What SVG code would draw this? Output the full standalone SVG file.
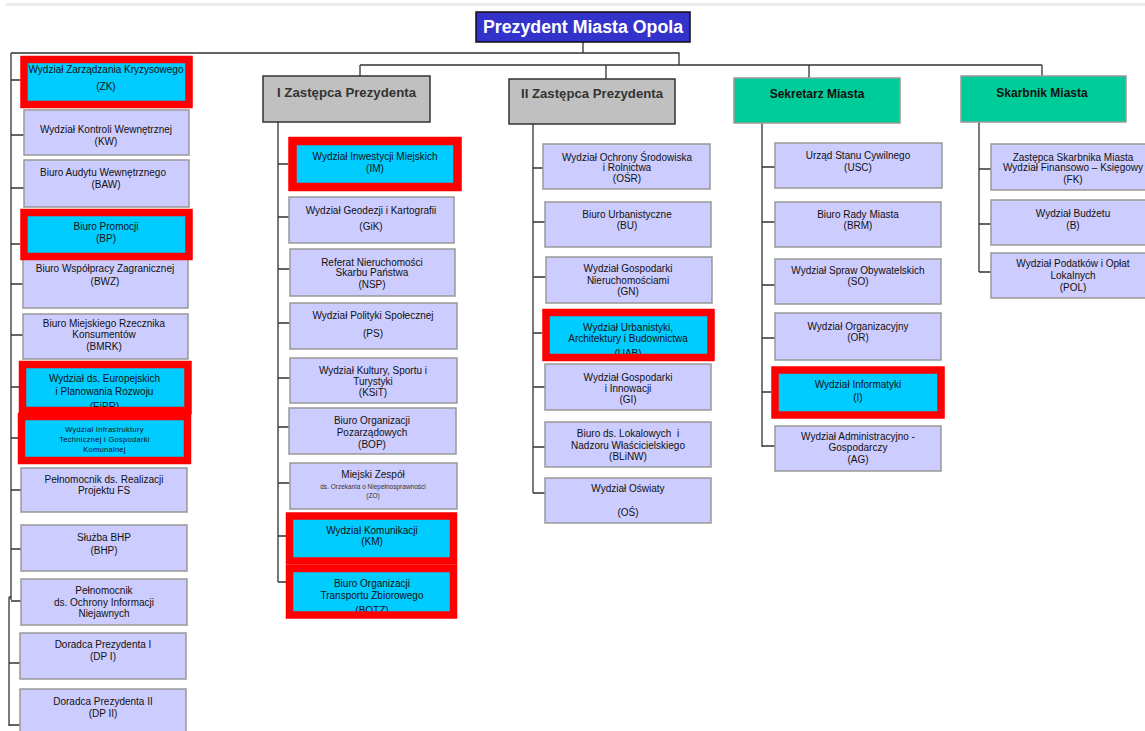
<svg xmlns="http://www.w3.org/2000/svg" width="1145" height="731" viewBox="0 0 1145 731">
<style>
text{font-family:"Liberation Sans",Arial,sans-serif;font-size:10px;fill:#111;text-anchor:middle}
.d{fill:#ccccff;stroke:#999;stroke-width:1.5}
.c{fill:#00ccff}
.r{fill:none;stroke:#ff0000;stroke-width:7.5}
.g{fill:#c0c0c0;stroke:#333;stroke-width:1.5}
.t{fill:#00cc99;stroke:#999;stroke-width:1.5}
.h{font-size:13px;font-weight:bold;fill:#333}
.hb{font-size:12px;font-weight:bold;fill:#111}
.s{font-size:7.5px;fill:#111;letter-spacing:0.3px}
.xs{font-size:6.5px;fill:#333}
#conn path{fill:none;stroke:#333;stroke-width:1.3}
</style>
<rect width="1145" height="731" fill="#fff"/>
<rect x="6" y="3" width="1139" height="3" fill="#ececec"/>
<g id="conn">
<path d="M583 42V53M11 53H679V65M360 65H1042M360 65V76M606 65V79M809 65V78M1042 65V76"/>
<path d="M11 53V600M9 597H11M9 597V726M11 80H20M11 135H24M11 188H24M11 244H20M11 284H23M11 335H23M11 387H19M11 438H18M11 490H21M11 549H21M11 601H21M9 663H20M9 725H20"/>
<path d="M278 122V582M278 164H288M278 217H289M278 269H290M278 323H290M278 378H290M278 427H289M278 483H290M278 536H286M278 582H286"/>
<path d="M533 124V493M533 168H543M533 222H545M533 277H546M533 333H542M533 387H545M533 447H545M533 493H545"/>
<path d="M762 123V447M762 167H775M762 222H775M762 285H775M762 338H775M762 392H771M762 446H775"/>
<path d="M979 122V272M979 169H991M979 224H991M979 272H991"/>
</g>
<g id="prezydent"><rect x="476" y="12" width="214" height="30" fill="#3333cc" stroke="#111" stroke-width="1.5"/><text x="583" y="33" style="font-size:18px;font-weight:bold;fill:#fff" textLength="200" lengthAdjust="spacingAndGlyphs">Prezydent Miasta Opola</text></g>
<g id="zastepca1"><rect class="g" x="263" y="76" width="167" height="46"/><text class="h" x="346.5" y="97" textLength="139" lengthAdjust="spacingAndGlyphs">I Zastępca Prezydenta</text></g>
<g id="zastepca2"><rect class="g" x="509" y="79" width="166" height="45"/><text class="h" x="592" y="98" textLength="142" lengthAdjust="spacingAndGlyphs">II Zastępca Prezydenta</text></g>
<g id="sekretarz"><rect class="t" x="734" y="78" width="166" height="45"/><text class="hb" x="817" y="97.5">Sekretarz Miasta</text></g>
<g id="skarbnik"><rect class="t" x="961" y="76" width="165" height="46"/><text class="hb" x="1042" y="96.5">Skarbnik Miasta</text></g>

<g id="zk"><rect class="c" x="24" y="59.5" width="165" height="45"/><text x="106" y="72.5">Wydział Zarządzania Kryzysowego</text><text x="106" y="89.5">(ZK)</text><rect class="r" x="24" y="59.5" width="165" height="45"/></g>
<g id="kw"><rect class="d" x="24" y="110" width="165" height="45"/><text x="106" y="132.5">Wydział Kontroli Wewnętrznej</text><text x="106" y="144.5">(KW)</text></g>
<g id="baw"><rect class="d" x="24" y="160" width="165" height="47"/><text x="103" y="175.5">Biuro Audytu Wewnętrznego</text><text x="106" y="187.5">(BAW)</text></g>
<g id="bwz"><rect class="d" x="23" y="255" width="165" height="53"/><text x="105" y="271.5">Biuro Współpracy Zagranicznej</text><text x="105" y="284.5">(BWZ)</text></g>
<g id="bp"><rect class="c" x="24" y="212.5" width="165" height="44"/><text x="106" y="229.5">Biuro Promocji</text><text x="106" y="241.5">(BP)</text><rect class="r" x="24" y="212.5" width="165" height="44"/></g>
<g id="bmrk"><rect class="d" x="23" y="314" width="165" height="45"/><text x="104" y="326.5">Biuro Miejskiego Rzecznika</text><text x="104" y="337.5">Konsumentów</text><text x="104" y="349.5">(BMRK)</text></g>
<g id="eipr"><rect class="c" x="22.5" y="364.5" width="165.5" height="46"/><text x="104.5" y="381.5">Wydział ds. Europejskich</text><text x="104.5" y="394.5">i Planowania Rozwoju</text><text x="104.5" y="409.5">(EiPR)</text><rect class="r" x="22.5" y="364.5" width="165.5" height="46"/></g>
<g id="itgk"><rect class="c" x="21.5" y="416.5" width="166" height="44"/><text class="s" x="104.5" y="431.5">Wydział Infrastruktury</text><text class="s" x="104.5" y="441.5">Technicznej i Gospodarki</text><text class="s" x="104.5" y="451.5">Komunalnej</text><rect class="r" x="21.5" y="416.5" width="166" height="44"/></g>
<g id="fs"><rect class="d" x="21" y="468" width="166" height="44"/><text x="104" y="482.5">Pełnomocnik ds. Realizacji</text><text x="104" y="493.5">Projektu FS</text></g>
<g id="bhp"><rect class="d" x="21" y="525" width="166" height="46"/><text x="104" y="540.5">Służba BHP</text><text x="104" y="553.5">(BHP)</text></g>
<g id="poin"><rect class="d" x="21" y="579" width="166" height="46"/><text x="104" y="593.5">Pełnomocnik</text><text x="104" y="605.5">ds. Ochrony Informacji</text><text x="104" y="616.5">Niejawnych</text></g>
<g id="dp1"><rect class="d" x="20" y="633" width="166" height="46"/><text x="103" y="647.5">Doradca Prezydenta I</text><text x="103" y="659.5">(DP I)</text></g>
<g id="dp2"><rect class="d" x="20" y="689" width="166" height="50"/><text x="103" y="704.5">Doradca Prezydenta II</text><text x="103" y="716.5">(DP II)</text></g>

<g id="im"><rect class="c" x="292.5" y="141" width="165" height="46"/><text x="375" y="159.5">Wydział Inwestycji Miejskich</text><text x="375" y="171.5">(IM)</text><rect class="r" x="292.5" y="141" width="165" height="46" style="stroke-width:8.5"/></g>
<g id="gik"><rect class="d" x="289" y="197" width="165" height="46"/><text x="371" y="213.5">Wydział Geodezji i Kartografii</text><text x="371" y="229.5">(GiK)</text></g>
<g id="nsp"><rect class="d" x="290" y="249" width="165" height="47"/><text x="372" y="265.5">Referat Nieruchomości</text><text x="372" y="275.5">Skarbu Państwa</text><text x="372" y="287.5">(NSP)</text></g>
<g id="ps"><rect class="d" x="290" y="303" width="167" height="46"/><text x="373" y="318.5">Wydział Polityki Społecznej</text><text x="373" y="336.5">(PS)</text></g>
<g id="ksit"><rect class="d" x="290" y="358" width="167" height="45"/><text x="373" y="373.5">Wydział Kultury, Sportu i</text><text x="373" y="384.5">Turystyki</text><text x="373" y="395.5">(KSiT)</text></g>
<g id="bop"><rect class="d" x="289" y="408" width="167" height="46"/><text x="372" y="423.5">Biuro Organizacji</text><text x="372" y="435.5">Pozarządowych</text><text x="372" y="447.5">(BOP)</text></g>
<g id="zo"><rect class="d" x="290" y="463" width="167" height="46"/><text x="373" y="477.5">Miejski Zespół</text><text class="xs" x="373" y="488.5">ds. Orzekania o Niepełnosprawności</text><text class="xs" x="373" y="497.5">(ZO)</text></g>
<g id="km"><rect class="c" x="289.5" y="516" width="164" height="45"/><text x="372" y="533.5">Wydział Komunikacji</text><text x="372" y="544.5">(KM)</text><rect class="r" x="289.5" y="516" width="164" height="45"/></g>
<g id="botz"><rect class="c" x="289.5" y="568.5" width="164" height="46.5"/><text x="372" y="586.5">Biuro Organizacji</text><text x="372" y="598.5">Transportu Zbiorowego</text><text x="372" y="613.5">(BOTZ)</text><rect class="r" x="289.5" y="568.5" width="164" height="46.5"/></g>

<g id="osr"><rect class="d" x="543" y="144" width="167" height="45"/><text x="627" y="160.5">Wydział Ochrony Środowiska</text><text x="627" y="170.5">i Rolnictwa</text><text x="627" y="181.5">(OŚR)</text></g>
<g id="bu"><rect class="d" x="545" y="202" width="166" height="45"/><text x="627" y="217.5">Biuro Urbanistyczne</text><text x="627" y="228.5">(BU)</text></g>
<g id="gn"><rect class="d" x="546" y="257" width="166" height="46"/><text x="628" y="271.5">Wydział Gospodarki</text><text x="628" y="283.5">Nieruchomościami</text><text x="628" y="294.5">(GN)</text></g>
<g id="uab"><rect class="c" x="546" y="312.5" width="165" height="45"/><text x="628" y="330.5">Wydział Urbanistyki,</text><text x="628" y="341.5">Architektury i Budownictwa</text><text x="628" y="356.5">(UAB)</text><rect class="r" x="546" y="312.5" width="165" height="45"/></g>
<g id="gi"><rect class="d" x="545" y="364" width="166" height="46"/><text x="628" y="380.5">Wydział Gospodarki</text><text x="628" y="391.5">i Innowacji</text><text x="628" y="402.5">(GI)</text></g>
<g id="blinw"><rect class="d" x="545" y="422" width="166" height="45"/><text x="628" y="436.5" xml:space="preserve">Biuro ds. Lokalowych  i</text><text x="628" y="448.5">Nadzoru Właścicielskiego</text><text x="628" y="459.5">(BLiNW)</text></g>
<g id="os"><rect class="d" x="545" y="478" width="166" height="45"/><text x="628" y="491.5">Wydział Oświaty</text><text x="628" y="515.5">(OŚ)</text></g>

<g id="usc"><rect class="d" x="775" y="143" width="167" height="45"/><text x="858" y="158.5">Urząd Stanu Cywilnego</text><text x="858" y="170.5">(USC)</text></g>
<g id="brm"><rect class="d" x="775" y="202" width="166" height="45"/><text x="858" y="217.5">Biuro Rady Miasta</text><text x="858" y="228.5">(BRM)</text></g>
<g id="so"><rect class="d" x="775" y="259" width="166" height="45"/><text x="858" y="273.5">Wydział Spraw Obywatelskich</text><text x="858" y="284.5">(SO)</text></g>
<g id="or"><rect class="d" x="775" y="313" width="166" height="47"/><text x="858" y="329.5">Wydział Organizacyjny</text><text x="858" y="340.5">(OR)</text></g>
<g id="inf"><rect class="c" x="775" y="370" width="166" height="45"/><text x="858" y="387.5">Wydział Informatyki</text><text x="858" y="400.5">(I)</text><rect class="r" x="775" y="370" width="166" height="45"/></g>
<g id="ag"><rect class="d" x="775" y="426" width="166" height="45"/><text x="858" y="440">Wydział Administracyjno -</text><text x="858" y="451">Gospodarczy</text><text x="858" y="462.5">(AG)</text></g>

<g id="fk"><rect class="d" x="991" y="144" width="166" height="46"/><text x="1073" y="160.5">Zastępca Skarbnika Miasta</text><text x="1073" y="170.5">Wydział Finansowo – Księgowy</text><text x="1073" y="182.5">(FK)</text></g>
<g id="b"><rect class="d" x="991" y="200" width="166" height="45"/><text x="1073" y="216.5">Wydział Budżetu</text><text x="1073" y="228.5">(B)</text></g>
<g id="pol"><rect class="d" x="991" y="253" width="166" height="45"/><text x="1073" y="266.5">Wydział Podatków i Opłat</text><text x="1073" y="278.5">Lokalnych</text><text x="1073" y="290.5">(POL)</text></g>
</svg>
